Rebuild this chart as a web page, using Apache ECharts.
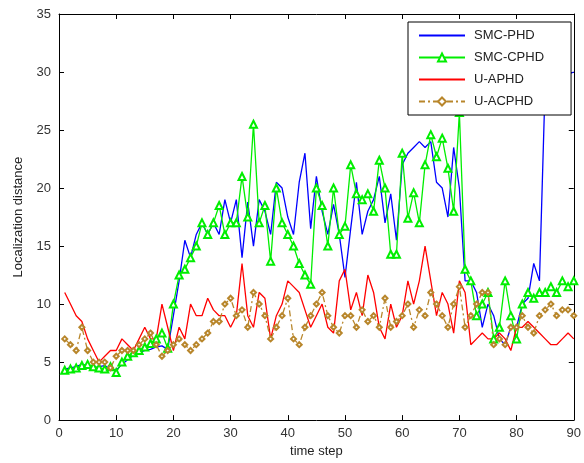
<!DOCTYPE html>
<html><head><meta charset="utf-8">
<script src="https://cdn.jsdelivr.net/npm/echarts@6/dist/echarts.min.js"></script>
<style>html,body{margin:0;padding:0;background:#fff}#c{width:584px;height:463px}</style>
</head><body><div id="c"></div>
<script>
const timeSteps = Array.from({length: 90}, (_, i) => i + 1);
const xTicks = [0,10,20,30,40,50,60,70,80,90];
const yTicks = [0,5,10,15,20,25,30,35];
const smcPHD = [4.4,4.5,4.6,4.8,4.7,4.5,4.6,4.7,4.4,4.3,4.8,5.2,5.6,5.8,6,6.1,6.3,6.4,6.1,9,12,15.5,14,16,17,16,17,16,19,17,19,14,18.8,15,19,18,16,20.5,20,17.5,16,20.5,23,16.5,21,18,16,18.6,16,12.3,16.5,20.5,16,18,19,21,17,19.5,15.5,22,23,23.5,24,23.5,24,20.5,20,17.5,23.5,20,12,12,11,8,10,9,7,6.5,8,8,10,10.5,13.5,12,29,30,30.5,30,29.8,30];
const smcCPHD = [4.3,4.4,4.5,4.7,4.8,4.6,4.5,4.4,4.6,4.1,5,5.5,5.8,6,6.3,6.6,7,7.5,6.2,10,12.5,13,14,15,17,16,17,18.5,16,17,17,21,17.5,25.5,17,18.5,13.7,20,17,16,15,13.5,12.5,11.7,20,18.5,15,20,16,16.7,22,19.5,19,19.5,18,22.4,20,14.3,14.3,23,17.4,19.6,17,22,24.6,22.7,24.3,21.7,18,26.5,13,12,9,10,11,7,8,12,9,7,10,11,10.5,11,11,11.5,11,12,11.5,12];
const uAPHD = [11,10,9,8.5,7,6,5,5.5,6,6,7,6.5,6,7,8,7,7,10,8,6,8,7,10,9,9,10.5,9.5,9,9,8,9,13.5,9,8,11,10.5,7,9,10,12,11.5,11,9.5,8,9,10,8,7.5,12,13,9.5,11,9,12.5,11,8,7,10,8,9,12,10,12,15,12,9,11,10,7.5,12,11,6.5,7,7.5,7,7,7.5,7,6,8,8,8.5,8,7.5,7,6.5,6.5,7,7.5,7];
const uACPHD = [7,6.5,6,8,6,5,5,5,4.5,5.5,6,6,6,6.5,7,7.5,6.5,5.5,6,6.5,7,6.5,6,6.5,7,7.5,8.5,8.5,10,10.5,9,9.5,8,11,10,9,7,8,9,10.5,7,6.5,8,9,10,11,9,8,7.5,9,9,8,9.5,8.5,9,8,10.5,8,8.5,9,10,8,9.5,9,11,10,9,8,10,11.5,8,9,10,11,11,6.5,7,6.5,8,8,9,8,7.5,9,9.5,10,9,9.5,9.5,9];

const pair = a => a.map((v, i) => [timeSteps[i], v]);
const font = 'Liberation Sans, Arial, sans-serif';
const axisLine = {show: true, onZero: false, lineStyle: {color: '#000', width: 1}};
const tick = {show: true, inside: true, length: 5, lineStyle: {color: '#000'}};
const chart = echarts.init(document.getElementById('c'), null, {renderer: 'canvas'});
chart.setOption({
  animation: false,
  backgroundColor: '#fff',
  grid: {left: 59, right: 7, top: 14, bottom: 42},
  legend: {
    orient: 'vertical', left: 408, top: 22, itemWidth: 46, itemHeight: 10, itemGap: 9,
    padding: [7, 27, 7, 10], borderColor: '#000', borderWidth: 1, backgroundColor: '#fff',
    textStyle: {fontFamily: font, fontSize: 13, color: '#222', padding: [0, 0, 0, 4]},
    data: [
      {name: 'SMC-PHD', itemStyle: {opacity: 0}},
      {name: 'SMC-CPHD'},
      {name: 'U-APHD', itemStyle: {opacity: 0}},
      {name: 'U-ACPHD'}
    ]
  },
  xAxis: [{
    type: 'value', min: xTicks[0], max: xTicks[xTicks.length-1], interval: 10,
    name: 'time step', nameLocation: 'middle', nameGap: 24,
    nameTextStyle: {fontFamily: font, fontSize: 13, color: '#222'},
    axisLine, axisTick: tick, splitLine: {show: false},
    axisLabel: {fontFamily: font, fontSize: 13, color: '#333', margin: 7}
  }, {
    type: 'value', position: 'top', min: xTicks[0], max: xTicks[xTicks.length-1], interval: 10,
    axisLine, axisTick: tick, axisLabel: {show: false}, splitLine: {show: false}
  }],
  yAxis: [{
    type: 'value', min: yTicks[0], max: yTicks[yTicks.length-1], interval: 5,
    name: 'Localization distance', nameLocation: 'middle', nameGap: 34,
    nameTextStyle: {fontFamily: font, fontSize: 13, color: '#222'},
    axisLine, axisTick: tick, splitLine: {show: false},
    axisLabel: {fontFamily: font, fontSize: 13, color: '#333', margin: 8}
  }, {
    type: 'value', position: 'right', min: yTicks[0], max: yTicks[yTicks.length-1], interval: 5,
    axisLine, axisTick: tick, axisLabel: {show: false}, splitLine: {show: false}
  }],
  series: [
    {name: 'SMC-PHD', type: 'line', data: pair(smcPHD), symbol: 'none',
     lineStyle: {color: '#0000ff', width: 1.3}, itemStyle: {color: '#0000ff'}},
    {name: 'SMC-CPHD', type: 'line', data: pair(smcCPHD), symbol: 'emptyTriangle', symbolSize: 7,
     lineStyle: {color: '#00ee00', width: 1.3}, itemStyle: {color: '#00ee00', borderWidth: 1.2}},
    {name: 'U-APHD', type: 'line', data: pair(uAPHD), symbol: 'none',
     lineStyle: {color: '#ff0000', width: 1.3}, itemStyle: {color: '#ff0000'}},
    {name: 'U-ACPHD', type: 'line', data: pair(uACPHD), symbol: 'emptyDiamond', symbolSize: 5,
     lineStyle: {color: '#b8862b', width: 1.3, type: [6, 3, 2, 3]}, itemStyle: {color: '#b8862b', borderWidth: 1}}
  ]
});
</script></body></html>
